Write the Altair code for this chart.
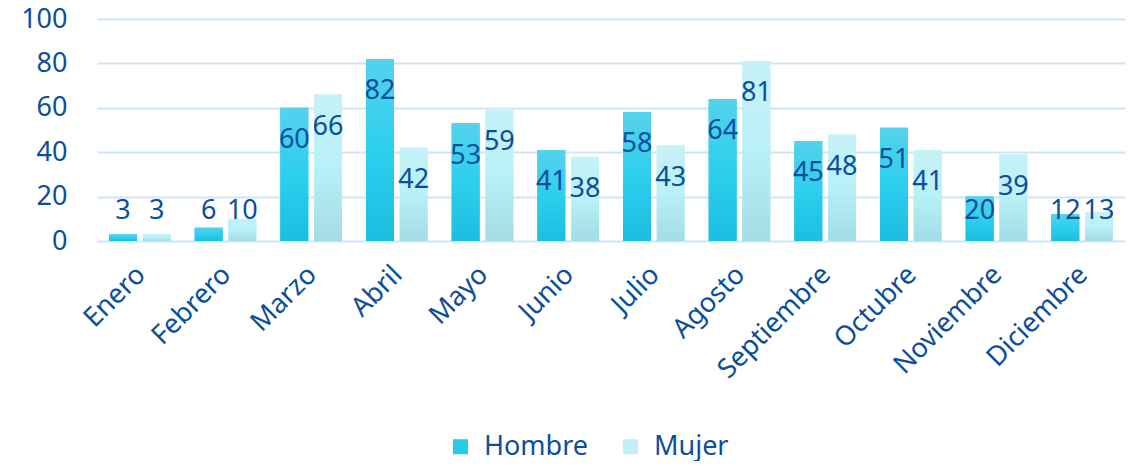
import altair as alt
import pandas as pd

meses = ["Enero", "Febrero", "Marzo", "Abril", "Mayo", "Junio", "Julio",
         "Agosto", "Septiembre", "Octubre", "Noviembre", "Diciembre"]
hombre = [3, 6, 60, 82, 53, 41, 58, 64, 45, 51, 20, 12]
mujer = [3, 10, 66, 42, 59, 38, 43, 81, 48, 41, 39, 13]
series = ["Hombre", "Mujer"]

rows = []
for m, h, w in zip(meses, hombre, mujer):
    rows.append({"mes": m, "sexo": "Hombre", "valor": h})
    rows.append({"mes": m, "sexo": "Mujer", "valor": w})
df = pd.DataFrame(rows)

FONT = "Noto Sans"
TXT = "#0B4F9C"
FS = 27

x_enc = alt.X("mes:N", sort=meses, title=None,
              scale=alt.Scale(paddingInner=0.28, paddingOuter=0.14),
              axis=alt.Axis(labelAngle=-45, labelFontSize=FS, labelColor=TXT,
                            labelFont=FONT, ticks=False, domain=False,
                            labelPadding=20, labelOffset=-8))
xo_enc = alt.XOffset("sexo:N", scale=alt.Scale(domain=series, paddingInner=0.17))
y_enc = alt.Y("valor:Q", title=None,
              scale=alt.Scale(domain=[0, 100]),
              axis=alt.Axis(values=[0, 20, 40, 60, 80, 100], labelFontSize=FS,
                            labelColor=TXT, labelFont=FONT, ticks=False,
                            domain=False, gridColor="#CFE4F8", gridWidth=2,
                            labelPadding=30))

base = alt.Chart(df)

legend_bars = base.mark_bar().encode(
    x=x_enc, xOffset=xo_enc, y=y_enc,
    color=alt.Color("sexo:N", title=None,
                    scale=alt.Scale(domain=series, range=["#29C9E8", "#BFF0F6"]),
                    legend=alt.Legend(orient="none", legendX=350, legendY=414,
                                      direction="horizontal",
                                      symbolType="square", symbolSize=225,
                                      labelFontSize=FS, labelColor=TXT,
                                      labelFont=FONT, columnPadding=28,
                                      labelOffset=10,
                                      symbolStrokeWidth=0)),
)

grad_h = alt.Gradient(gradient="linear", x1=0, x2=0, y1=0, y2=1,
                      stops=[alt.GradientStop(color="#55D2EC", offset=0),
                             alt.GradientStop(color="#2CCFEE", offset=0.5),
                             alt.GradientStop(color="#1CBEDF", offset=1)])
grad_m = alt.Gradient(gradient="linear", x1=0, x2=0, y1=0, y2=1,
                      stops=[alt.GradientStop(color="#C6F2F8", offset=0),
                             alt.GradientStop(color="#B9F0F7", offset=0.5),
                             alt.GradientStop(color="#A2DCE4", offset=1)])

bars_h = base.transform_filter(alt.datum.sexo == "Hombre").mark_bar(color=grad_h).encode(
    x=x_enc, xOffset=xo_enc, y=y_enc)
bars_m = base.transform_filter(alt.datum.sexo == "Mujer").mark_bar(color=grad_m).encode(
    x=x_enc, xOffset=xo_enc, y=y_enc)

labels = base.transform_calculate(
    ypos="max(datum.valor - 14.5, 13.5)"
).mark_text(fontSize=FS, color=TXT, font=FONT, baseline="middle").encode(
    x=x_enc, xOffset=xo_enc,
    y=alt.Y("ypos:Q"),
    text=alt.Text("valor:Q"),
)

chart = alt.layer(legend_bars, bars_h, bars_m, labels).properties(
    width=1028, height=222,
    autosize=alt.AutoSizeParams(type="none"),
    padding={"left": 89, "top": 11, "right": 1, "bottom": 220},
).configure_view(stroke=None)

chart.save("out.html", embed_options={"renderer": "svg", "actions": False})
